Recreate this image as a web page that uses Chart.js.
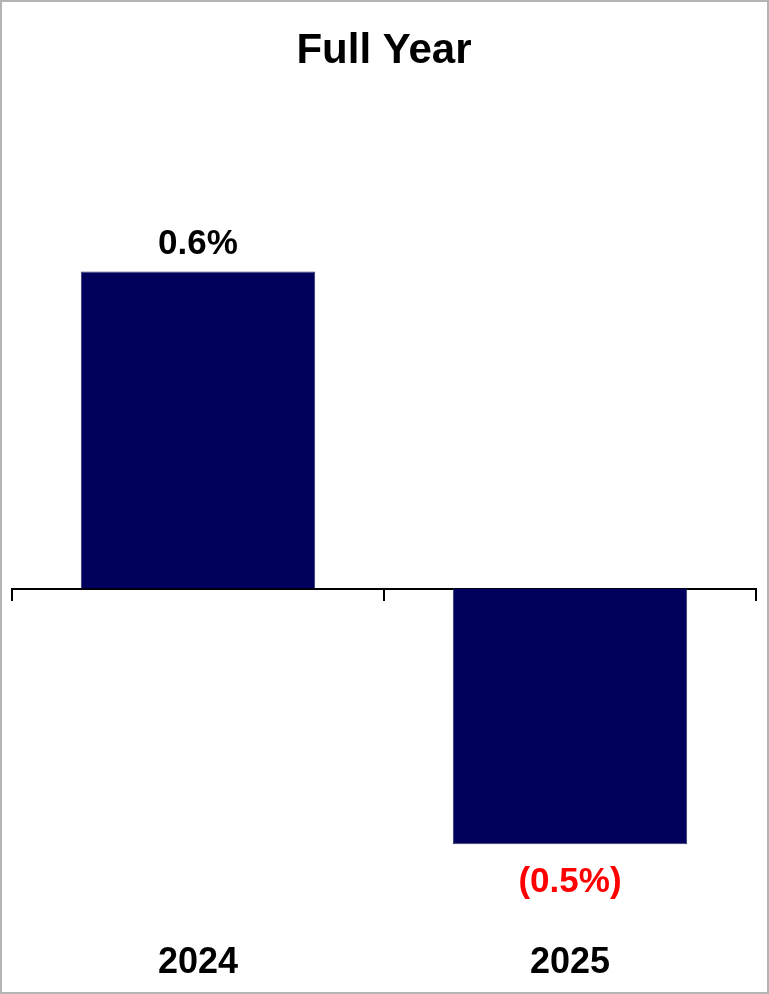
<!DOCTYPE html>
<html>
<head>
<meta charset="utf-8">
<script src="https://cdn.jsdelivr.net/npm/chart.js@4"></script>
<style>
  html, body { margin: 0; padding: 0; background: #fff; }
  #wrap { position: relative; width: 769px; height: 994px; }
  #frame { position: absolute; left: 0; top: 0; width: 769px; height: 994px;
           box-sizing: border-box; border: 2px solid #b4b4b4; pointer-events: none; }
</style>
</head>
<body>
<div id="wrap">
  <canvas id="chart" width="769" height="994"></canvas>
  <div id="frame"></div>
</div>
<script>
const titleText = "Full Year";
const years = ["2024", "2025"];
const growth = [0.62, -0.50];

// value labels above / below each bar
const valueLabels = {
    id: "valueLabels",
    afterDatasetsDraw(chart){
        const ctx = chart.ctx;
        const meta = chart.getDatasetMeta(0);
        ctx.save();
        ctx.font = "bold 35px 'Liberation Sans', Arial, sans-serif";
        ctx.textAlign = "center";
        ctx.textBaseline = "alphabetic";
        meta.data.forEach((bar, i) => {
            const v = growth[i];
            if(v >= 0){
                ctx.fillStyle = "#000000";
                ctx.fillText(v.toFixed(1) + "%", bar.x, bar.y - 17);
            } else {
                ctx.fillStyle = "#ff0000";
                ctx.fillText("(" + Math.abs(v).toFixed(1) + "%)", bar.x, bar.y + 48);
            }
        });
        ctx.restore();
    }
};

new Chart(document.getElementById("chart"), {
    type: "bar",
    data: {
        labels: years,
        datasets: [{
            data: growth,
            backgroundColor: "#00005c",
            borderColor: "#34346a",
            borderWidth: 1,
            categoryPercentage: 0.63,
            barPercentage: 1
        }]
    },
    options: {
        responsive: false,
        animation: false,
        events: [],
        layout: { padding: { left: 12, right: 13, top: 0, bottom: 0 } },
        plugins: {
            legend: { display: false },
            tooltip: { enabled: false },
            title: {
                display: true,
                text: titleText,
                color: "#000000",
                font: { family: "'Liberation Sans', Arial, sans-serif", size: 42, weight: "bold" },
                padding: { top: 26, bottom: 103 }
            }
        },
        scales: {
            x: {
                grid: { display: false, drawTicks: false },
                border: { display: false },
                afterFit: scale => { scale.height = 73; },
                ticks: {
                    color: "#000000",
                    padding: 20,
                    font: { family: "'Liberation Sans', Arial, sans-serif", size: 36, weight: "bold" }
                }
            },
            x2: {
                type: "category",
                position: { y: 0 },
                offset: true,
                grid: {
                    offset: true,
                    drawOnChartArea: false,
                    drawTicks: true,
                    tickLength: 11,
                    lineWidth: 2,
                    color: "#000000"
                },
                border: { display: true, color: "#000000", width: 2 },
                ticks: { display: false }
            },
            y: {
                display: false,
                min: -0.65,
                max: 0.8
            }
        }
    },
    plugins: [valueLabels]
});
</script>
</body>
</html>
